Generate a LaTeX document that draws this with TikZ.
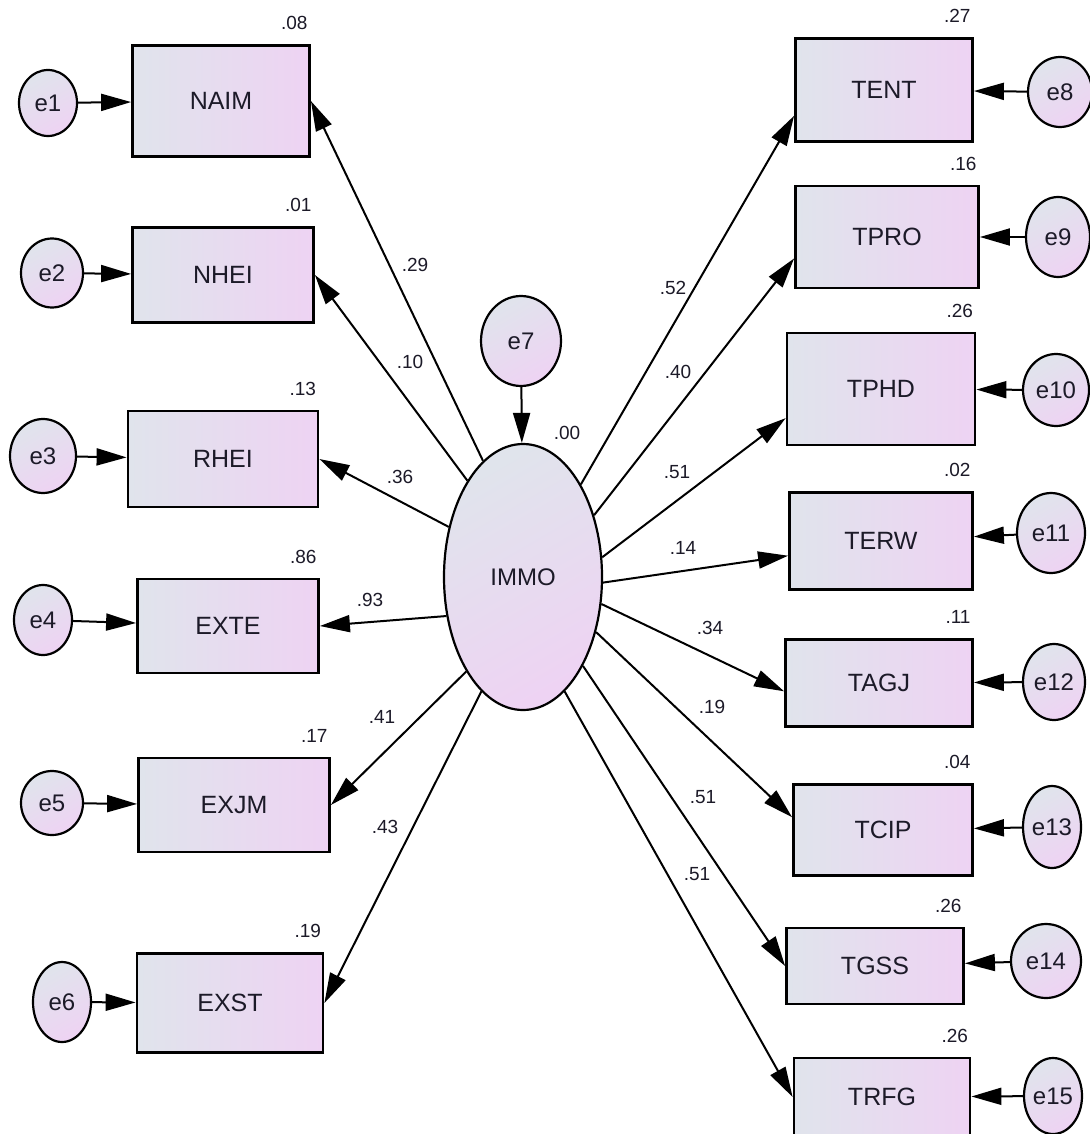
\documentclass[tikz,border=0pt]{standalone}
\usepackage{fontspec}
\setmainfont{Liberation Sans}
\usetikzlibrary{arrows.meta}
\usetikzlibrary{shapes.geometric}

\definecolor{obsL}{RGB}{224,228,236}
\definecolor{obsR}{RGB}{238,211,243}
\definecolor{inkc}{RGB}{28,26,40}

\tikzset{px/.style 2 args={minimum width=#1*0.5pt, minimum height=#2*0.5pt}}

\begin{document}
\begin{tikzpicture}[
  x=0.5pt, y=-0.5pt, % one unit = one pixel of the drawing
  obs/.style={
    draw,
    line width=1.4pt,
    inner sep=0pt,
    left color=obsL, right color=obsR,
    text=inkc,
    font=\fontsize{12.5}{14}\selectfont
  },
  err/.style={
    ellipse,
    draw,
    line width=1.1pt,
    inner sep=0pt,
    top color=obsL, bottom color=obsR, shading angle=30,
    text=inkc,
    font=\fontsize{12}{14}\selectfont
  },
  rsq/.style={font=\fontsize{9.5}{10}\selectfont, text=inkc, inner sep=0pt,
    anchor=south east, xshift=-1.5pt, yshift=7pt},
  coef/.style={font=\fontsize{9.5}{10}\selectfont, text=inkc, inner sep=0pt},
  arrow/.style={-{Triangle[length=15pt,width=8.5pt]}, line width=1pt}
]
\useasboundingbox (0,0) rectangle (1090,1134);
\fill[white] (0,0) rectangle (1090,1134);

% latent variable
\node[err, px={158}{266}] (IMMO) at (523,577) {IMMO};
\node[err, px={80}{90}] (e7) at (521,341) {e7};
\node[coef] (r7) at (567,433) {.00};

% left indicators
\node[obs, px={177}{111}, label={[rsq]north east:.08}] (NAIM) at (221,101) {NAIM};
\node[obs, px={181}{95},  label={[rsq]north east:.01}] (NHEI) at (223,275) {NHEI};
\node[obs, px={190}{96},  label={[rsq]north east:.13}] (RHEI) at (223,459) {RHEI};
\node[obs, px={181}{94},  label={[rsq]north east:.86}] (EXTE) at (228,626) {EXTE};
\node[obs, px={191}{94},  label={[rsq]north east:.17}] (EXJM) at (234,805) {EXJM};
\node[obs, px={186}{99},  label={[rsq]north east:.19}] (EXST) at (230,1003) {EXST};

\node[err, px={58}{66}] (e1) at (48,103) {e1};
\node[err, px={62}{69}] (e2) at (52,273) {e2};
\node[err, px={66}{74}] (e3) at (43,456) {e3};
\node[err, px={58}{70}] (e4) at (43,620) {e4};
\node[err, px={62}{64}] (e5) at (52,803) {e5};
\node[err, px={58}{80}] (e6) at (62,1002) {e6};

% right indicators
\node[obs, px={177}{103}, label={[rsq]north east:.27}] (TENT) at (884,90) {TENT};
\node[obs, px={183}{102}, label={[rsq]north east:.16}] (TPRO) at (887,237) {TPRO};
\node[obs, px={188}{112}, label={[rsq]north east:.26}] (TPHD) at (881,389) {TPHD};
\node[obs, px={183}{97},  label={[rsq]north east:.02}] (TERW) at (881,541) {TERW};
\node[obs, px={187}{87},  label={[rsq]north east:.11}] (TAGJ) at (879,683) {TAGJ};
\node[obs, px={179}{91},  label={[rsq]north east:.04}] (TCIP) at (883,830) {TCIP};
\node[obs, px={177}{76},  label={[rsq]north east:.26}] (TGSS) at (875,966) {TGSS};
\node[obs, px={176}{78},  label={[rsq]north east:.26}] (TRFG) at (882,1097) {TRFG};

\node[err, px={64}{70}] (e8)  at (1060,92)   {e8};
\node[err, px={64}{80}] (e9)  at (1058,237)  {e9};
\node[err, px={66}{72}] (e10) at (1056,390)  {e10};
\node[err, px={68}{80}] (e11) at (1051,533)  {e11};
\node[err, px={62}{76}] (e12) at (1054,682)  {e12};
\node[err, px={58}{82}] (e13) at (1052,827)  {e13};
\node[err, px={70}{74}] (e14) at (1046,961)  {e14};
\node[err, px={58}{76}] (e15) at (1053,1096) {e15};

% loadings
\foreach \cx/\cy/\cv [count=\i] in {415/265/.29, 410/362/.10, 400/477/.36,
    370/600/.93, 382/717/.41, 385/827/.43, 673/288/.52, 678/372/.40,
    677/472/.51, 683/548/.14, 710/628/.34, 712/707/.19, 703/797/.51, 697/874/.51}
  \node[coef] (c\i) at (\cx,\cy) {\cv};

% errors
\draw[arrow] (e7) -- (IMMO);
\foreach \e/\b in {e1/NAIM, e2/NHEI, e3/RHEI, e4/EXTE, e5/EXJM, e6/EXST,
    e8/TENT, e9/TPRO, e10/TPHD, e11/TERW, e12/TAGJ, e13/TCIP, e14/TGSS, e15/TRFG}
  \draw[arrow] (\e) -- (\b);

% paths from IMMO
\draw[arrow] (IMMO.109) -- (NAIM.east);
\draw[arrow] (IMMO.120) -- (NHEI.east);
\draw[arrow] (IMMO.146) -- (RHEI.east);
\draw[arrow] (IMMO.207) -- (EXTE.east);
\draw[arrow] (IMMO.239) -- (EXJM.east);
\draw[arrow] (IMMO.250) -- (EXST.east);
\draw[arrow] (IMMO.58)  -- (TENT.196);
\draw[arrow] (IMMO.41)  -- (TPRO.193);
\draw[arrow] (IMMO.14)  -- (TPHD.197);
\draw[arrow] (IMMO.-4)  -- (TERW.189);
\draw[arrow] (IMMO.-19) -- (TAGJ.185);
\draw[arrow] (IMMO.-37) -- (TCIP.172);
\draw[arrow] (IMMO.-56) -- (TGSS.west);
\draw[arrow] (IMMO.-70) -- (TRFG.west);
\end{tikzpicture}
\end{document}
